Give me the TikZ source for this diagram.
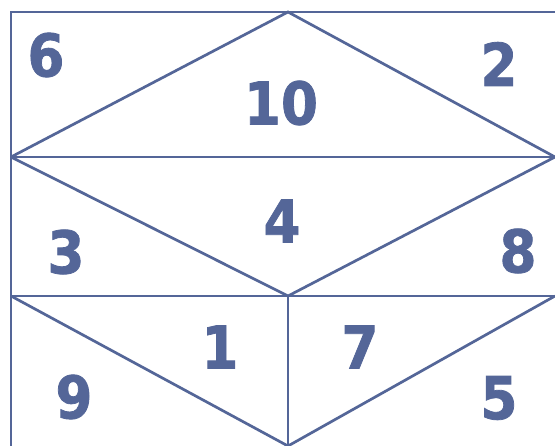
\documentclass[tikz,border=0pt]{standalone}
\usepackage{fontspec}
\setmainfont{DejaVu Sans}
\newfontfamily\heavy{DejaVu Sans}[BoldFeatures={FakeBold=1.3,FakeStretch=0.9}]
\definecolor{ink}{RGB}{84,102,152}
\begin{document}
\begin{tikzpicture}[x=1pt,y=-1pt,
  edge/.style={draw=ink,line width=2.7pt,line join=miter},
  num/.style={text=ink,font=\heavy\fontsize{59}{59}\selectfont\bfseries,inner sep=0pt,anchor=center}]
\useasboundingbox[fill=white] (0,0) rectangle (555,446);
% corner and vertex coordinates
\coordinate (TL) at (11,12);
\coordinate (TM) at (288,12);
\coordinate (TR) at (555,12);
\coordinate (ML) at (11,157);
\coordinate (MR) at (555,157);
\coordinate (LL) at (11,296);
\coordinate (LM) at (288,296);
\coordinate (LR) at (555,296);
\coordinate (BL) at (11,446);
\coordinate (BM) at (288,446);
\coordinate (BR) at (555,446);
% frame and horizontal bands
\draw[edge] (TR) -- (TL) -- (BL);
\draw[edge] (ML) -- (MR);
\draw[edge] (LL) -- (LR);
% top triangle
\draw[edge] (ML) -- (TM) -- (MR);
% middle V
\draw[edge] (ML) -- (LM) -- (MR);
% bottom
\draw[edge] (LM) -- (BM);
\draw[edge] (LL) -- (BM) -- (LR);
% numbers
\node[num] (n6) at (46,55) {6};
\node[num] (n10) at (281,103) {10};
\node[num] (n2) at (499,64) {2};
\node[num] (n3) at (66,252) {3};
\node[num] (n4) at (282,221) {4};
\node[num] (n8) at (518,251) {8};
\node[num] (n1) at (220,347) {1};
\node[num] (n7) at (360,347) {7};
\node[num] (n9) at (74,397) {9};
\node[num] (n5) at (499,398) {5};
\end{tikzpicture}
\end{document}
